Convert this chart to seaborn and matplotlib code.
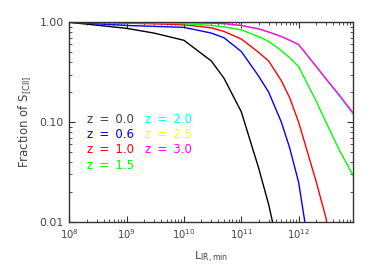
import numpy as np
import pandas as pd
import seaborn as sns
import matplotlib
matplotlib.use("Agg")
import matplotlib.pyplot as plt
from matplotlib.ticker import LogLocator, FixedLocator, NullFormatter

# -------- DATA --------
l_ir_min = [1e8, 1e9, 3e9, 1e10, 3e10, 5e10, 1e11, 2e11, 3e11, 5e11,
            7e11, 1e12, 2e12, 3e12, 5e12, 9e12]

frac_z00 = [1.0, 0.87, 0.78, 0.66, 0.41, 0.275, 0.127, 0.035, 0.015, 0.004,
            np.nan, np.nan, np.nan, np.nan, np.nan, np.nan]
frac_z06 = [1.0, 0.93, 0.91, 0.89, 0.78, 0.70, 0.51, 0.29, 0.20, 0.10,
            0.055, 0.025, 0.002, np.nan, np.nan, np.nan]
frac_z10 = [1.0, 0.98, 0.965, 0.945, 0.88, 0.81, 0.68, 0.50, 0.41, 0.26,
            0.175, 0.10, 0.026, 0.011, 0.002, np.nan]
frac_z15 = [1.0, 0.99, 0.985, 0.97, 0.93, 0.90, 0.84, 0.72, 0.645, 0.52,
            0.44, 0.36, 0.165, 0.10, 0.054, 0.029]
frac_z20 = [1.0, 1.0, 1.0, 0.995, 0.98, 0.97, 0.93, 0.86, 0.80, 0.72,
            0.66, 0.595, 0.36, 0.267, 0.185, 0.118]
frac_z25 = [1.0, 1.0, 1.0, 0.995, 0.98, 0.97, 0.93, 0.86, 0.80, 0.72,
            0.66, 0.60, 0.365, 0.27, 0.19, 0.121]
frac_z30 = [1.0, 1.0, 1.0, 0.995, 0.98, 0.97, 0.93, 0.86, 0.80, 0.72,
            0.66, 0.60, 0.365, 0.272, 0.19, 0.123]

z_labels = ["0.0", "0.6", "1.0", "1.5", "2.0", "2.5", "3.0"]
z_colors = ["black", "blue", "red", "#00ff00", "cyan", "yellow", "magenta"]
series = [frac_z00, frac_z06, frac_z10, frac_z15, frac_z20, frac_z25, frac_z30]

df = pd.concat([
    pd.DataFrame({"L": l_ir_min, "frac": s, "z": z})
    for z, s in zip(z_labels, series)
], ignore_index=True)

# -------- PLOT --------
sns.set_style("ticks")
plt.rcParams["font.family"] = ["DejaVu Sans"]
text_col = "#444444"

fig = plt.figure(figsize=(3.74, 2.67), dpi=100)
ax = fig.add_axes([0.1853, 0.1685, 0.7594, 0.748])

sns.lineplot(data=df, x="L", y="frac", hue="z", palette=dict(zip(z_labels, z_colors)),
             hue_order=z_labels, legend=False, linewidth=1.0, ax=ax, sort=False)

ax.set_xscale("log")
ax.set_yscale("log")
ax.set_xlim(1e8, 9e12)
ax.set_ylim(0.01, 1.0)

ax.xaxis.set_major_locator(FixedLocator([1e8, 1e9, 1e10, 1e11, 1e12]))
ax.xaxis.set_minor_locator(LogLocator(base=10, subs=np.arange(2, 10), numticks=20))
ax.xaxis.set_minor_formatter(NullFormatter())
ax.set_xticklabels([r"$\mathregular{10^{%d}}$" % n for n in [8, 9, 10, 11, 12]])

ax.yaxis.set_major_locator(FixedLocator([0.01, 0.1, 1.0]))
ax.yaxis.set_minor_locator(LogLocator(base=10, subs=np.arange(2, 10), numticks=20))
ax.yaxis.set_minor_formatter(NullFormatter())
ax.set_yticklabels(["0.01", "0.10", "1.00"])

ax.tick_params(which="both", direction="in", top=True, right=True,
               colors="#333333", labelcolor=text_col)
ax.tick_params(axis="x", labelsize=7.2)
ax.tick_params(axis="y", labelsize=7.8)
ax.tick_params(which="major", length=4, width=0.8, pad=4)
ax.tick_params(which="minor", length=2, width=0.6)
for sp in ax.spines.values():
    sp.set_visible(True)
    sp.set_color("#333333")
    sp.set_linewidth(1.0)

ax.set_xlabel(r"$\mathregular{L_{IR,min}}$", color=text_col, fontsize=8, labelpad=6)
ax.set_ylabel(r"Fraction of $\mathregular{S_{[CII]}}$", color=text_col, fontsize=8.5, labelpad=4)

# -------- LABELS --------
col_x = [0.062, 0.267]
row_y = [0.515, 0.44, 0.365, 0.285]
for i, (z, c) in enumerate(zip(z_labels, z_colors)):
    col = 0 if i < 4 else 1
    row = i if i < 4 else i - 4
    ax.text(col_x[col], row_y[row], "z \u2009= \u2009" + z, transform=ax.transAxes,
            color=text_col if c == "black" else c, fontsize=8.5, va="center", ha="left")

fig.savefig("out.png", dpi=100)
